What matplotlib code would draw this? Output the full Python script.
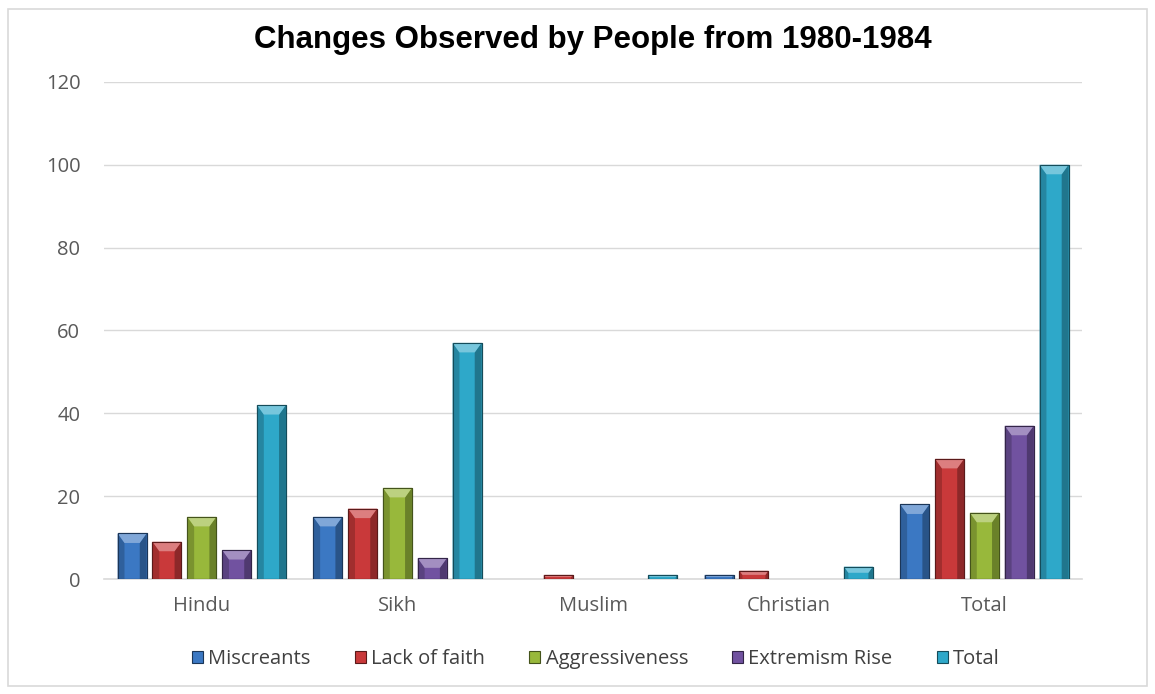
import matplotlib
matplotlib.use("Agg")
import matplotlib.pyplot as plt
import numpy as np
from matplotlib.patches import Polygon, Rectangle
from matplotlib.colors import to_rgb

categories = ["Hindu", "Sikh", "Muslim", "Christian", "Total"]
series_names = ["Miscreants", "Lack of faith", "Aggressiveness", "Extremism Rise", "Total"]
miscreants = [11, 15, 0, 1, 18]
lack_of_faith = [9, 17, 1, 2, 29]
aggressiveness = [15, 22, 0, 0, 16]
extremism_rise = [7, 5, 0, 0, 37]
total = [42, 57, 1, 3, 100]
y_ticks = [0, 20, 40, 60, 80, 100, 120]

series_values = [miscreants, lack_of_faith, aggressiveness, extremism_rise, total]
colors = ["#3b78c3", "#c9393a", "#98b83b", "#7152a0", "#2ea8c9"]


def shade(c, f):
    r, g, b = to_rgb(c)
    if f >= 0:
        return (r + (1 - r) * f, g + (1 - g) * f, b + (1 - b) * f)
    return (r * (1 + f), g * (1 + f), b * (1 + f))


fig = plt.figure(figsize=(11.55, 6.94), dpi=100)
ax = fig.add_axes([0.090, 0.1657, 0.847, 0.7163])

# light frame around the whole chart
fig.patches.append(Rectangle((0.007, 0.012), 0.986, 0.975, transform=fig.transFigure,
                             fill=False, edgecolor="#d9d9d9", linewidth=1.2))

x = np.arange(len(categories))
step = 0.178
width = 0.148
bevel_w = 0.035
bevel_h = 2.3

for i, (name, vals, col) in enumerate(zip(series_names, series_values, colors)):
    xs = x + (i - 2) * step
    vals = np.asarray(vals, dtype=float)
    edge = [shade(col, -0.55) if v > 0 else "none" for v in vals]
    ax.bar(xs, vals, width=width, color=col, edgecolor=edge,
           linewidth=0.8, zorder=3, label=name)
    for xc, v in zip(xs, vals):
        if v <= 0:
            continue
        x0, x1 = xc - width / 2, xc + width / 2
        bh = min(bevel_h, v / 2)
        bw = min(bevel_w, bh / bevel_h * bevel_w)
        # left and right side strips
        ax.add_patch(Polygon([(x0, 0), (x0, v), (x0 + bw, v - bh), (x0 + bw, 0)],
                             closed=True, facecolor=shade(col, -0.2), edgecolor="none", zorder=4))
        ax.add_patch(Polygon([(x1, 0), (x1, v), (x1 - bw, v - bh), (x1 - bw, 0)],
                             closed=True, facecolor=shade(col, -0.3), edgecolor="none", zorder=4))
        # top highlight
        ax.add_patch(Polygon([(x0, v), (x1, v), (x1 - bw, v - bh), (x0 + bw, v - bh)],
                             closed=True, facecolor=shade(col, 0.35), edgecolor="none", zorder=4))
        ax.add_patch(Rectangle((x0, 0), width, v, fill=False,
                               edgecolor=shade(col, -0.55), linewidth=0.8, zorder=5))

ax.set_xlim(-0.5, len(categories) - 0.5)
ax.set_ylim(0, 120)
ax.set_yticks(y_ticks)
ax.set_xticks(x)
ax.set_xticklabels(categories)
ax.yaxis.grid(True, color="#d9d9d9", linewidth=1.0, zorder=0)
ax.set_axisbelow(True)
for s in ["top", "right", "left"]:
    ax.spines[s].set_visible(False)
ax.spines["bottom"].set_color("#d9d9d9")
ax.spines["bottom"].set_linewidth(1.2)
ax.tick_params(axis="both", length=0, labelsize=14.5, labelcolor="#595959")
ax.tick_params(axis="x", pad=12)
ax.tick_params(axis="y", pad=17)
for lbl in ax.get_xticklabels() + ax.get_yticklabels():
    lbl.set_fontfamily("Open Sans")

fig.text(0.513, 0.942, "Changes Observed by People from 1980-1984", ha="center", va="center",
         fontsize=22.5, fontweight="bold", family="Liberation Sans", color="black")

leg = ax.legend(loc="upper center", bbox_to_anchor=(0.503, -0.105), ncol=5, frameon=False,
                prop={"family": "Open Sans", "size": 14.5}, handlelength=0.55, handleheight=0.55,
                handletextpad=0.25, columnspacing=2.2)
for t in leg.get_texts():
    t.set_color("#404040")

fig.savefig("out.png", dpi=100)
